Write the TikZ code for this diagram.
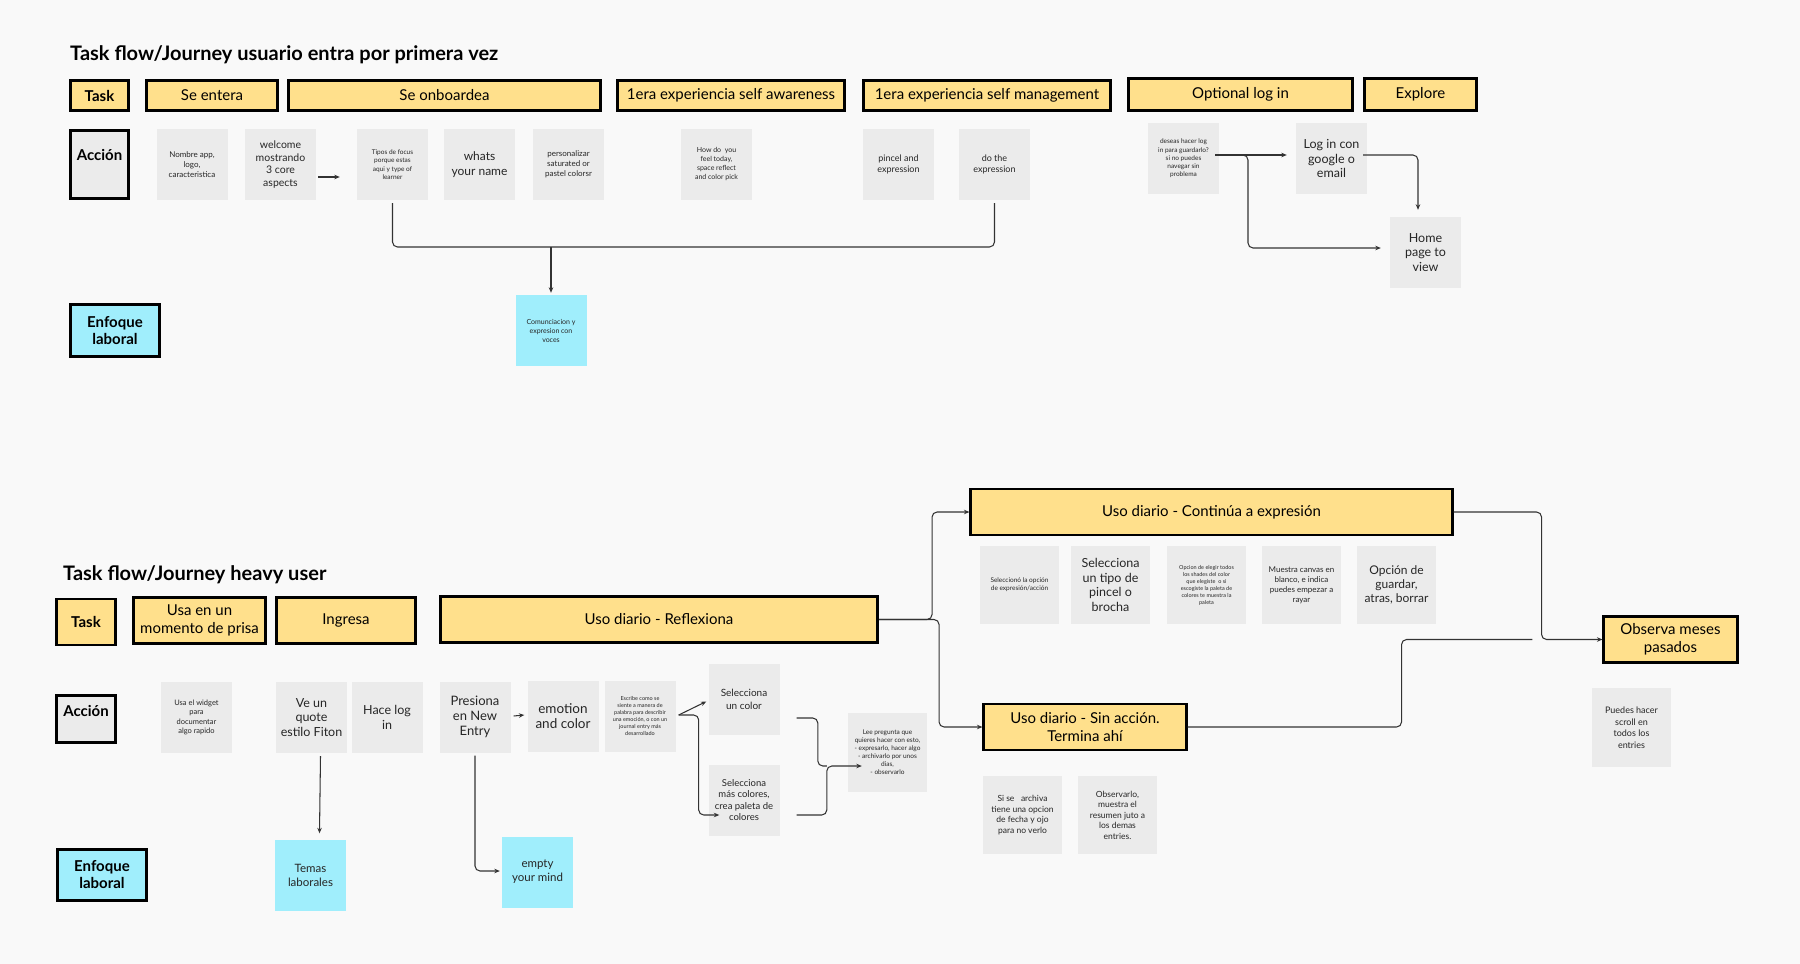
\documentclass[tikz,border=0pt]{standalone}
\usepackage{fontspec}
\setmainfont{Lato}
\usetikzlibrary{arrows.meta,calc}
\definecolor{bgc}{HTML}{F9F9F9}
\definecolor{hdrc}{HTML}{FFE08C}
\definecolor{cardg}{HTML}{EBEBEB}
\definecolor{cyanb}{HTML}{A0EEFC}
\definecolor{linec}{HTML}{333333}
\definecolor{txtc}{HTML}{262626}
\tikzset{
  hdrbox/.style={draw=black, line width=2.6pt, fill=hdrc, inner sep=1pt, align=center, text=black},
  lblbox/.style={draw=black, line width=2.6pt, inner sep=1pt, align=center, text=black, font=\bfseries\fontsize{15}{17}\selectfont},
  lbltext/.style={label={[font=\bfseries\fontsize{15}{17}\selectfont, text=black, inner sep=0pt, yshift=#1]center:Acción}},
  card/.style={fill=cardg, minimum width=71pt, minimum height=71pt, inner sep=1pt, align=center, text=txtc},
  cyanc/.style={card, fill=cyanb},
  bigcard/.style={card, minimum width=79pt, minimum height=78pt},
  conn/.style={draw=linec, line width=1.05pt, rounded corners=5pt},
  arr/.style={conn, -{Stealth[length=5.5pt,width=4.5pt]}},
  ttl/.style={anchor=base west, inner sep=0pt, font=\bfseries\fontsize{20}{22}\selectfont},
  h1/.style={hdrbox, minimum height=30.5pt, font=\fontsize{15}{18}\selectfont},
  h2/.style={hdrbox, minimum height=46pt, font=\fontsize{15}{18}\selectfont}
}
\begin{document}
\begin{tikzpicture}[x=1pt,y=-1pt]
\useasboundingbox (0,0) rectangle (1800,964);
\fill[bgc] (0,0) rectangle (1800,964);

% ---------------- Journey 1 ----------------
\node[ttl] (title1) at (70,60) {Task flow/Journey usuario entra por primera vez};

\node[h1, minimum width=58.5pt, font=\bfseries\fontsize{15}{18}\selectfont] (t1task) at (99.5,95.5) {Task};
\node[h1, minimum width=131.5pt] (t1ent) at (212,95.5) {Se entera};
\node[h1, minimum width=312.5pt] (t1onb) at (444.5,95.5) {Se onboardea};
\node[h1, minimum width=227.5pt] (t1aw) at (731,95.5) {1era experiencia self awareness};
\node[h1, minimum width=247.5pt] (t1mg) at (987,95.5) {1era experiencia self management};
\node[h1, minimum width=224.5pt, minimum height=32.5pt] (t1log) at (1240.5,94.5) {Optional log in};
\node[h1, minimum width=112.5pt, minimum height=32.5pt] (t1exp) at (1420.5,94.5) {Explore};

\node[lblbox, fill=cardg, minimum width=58.5pt, minimum height=68.5pt, lbltext=10pt] (acc1) at (99.5,164.5) {};
\node[lblbox, fill=cyanb, minimum width=89.5pt, minimum height=52.5pt] (enf1) at (115,330.5) {Enfoque\\laboral};

\node[card, font=\fontsize{8}{10}\selectfont] (c1) at (192,164.5) {Nombre app,\\logo,\\caracteristica};
\node[card, font=\fontsize{10.5}{12.6}\selectfont] (c2) at (280.5,164.5) {welcome\\mostrando\\3 core\\aspects};
\node[card, font=\fontsize{6.5}{8.4}\selectfont] (c3) at (392.5,164.5) {Tipos de focus\\porque estas\\aqui y type of\\learner};
\node[card, font=\fontsize{12}{14.5}\selectfont] (c4) at (479.5,164.5) {whats\\your name};
\node[card, font=\fontsize{8}{10.2}\selectfont] (c5) at (568.5,164.5) {personalizar\\saturated or\\pastel colorsr};
\node[card, font=\fontsize{7}{9}\selectfont] (c6) at (716.5,164.5) {How do\ \ you\\feel today,\\space reflect\\and color pick};
\node[card, font=\fontsize{9}{11.5}\selectfont] (c7) at (898.5,164.5) {pincel and\\expression};
\node[card, font=\fontsize{9}{11.5}\selectfont] (c8) at (994.5,164.5) {do the\\expression};
\node[card, font=\fontsize{6.5}{8.2}\selectfont] (c9) at (1183.5,158.5) {deseas hacer log\\in para guardarlo?\\si no puedes\\navegar sin\\problema};
\node[card, font=\fontsize{12.5}{14.5}\selectfont] (c10) at (1331.5,158.5) {Log in con\\google o\\email};
\node[card, font=\fontsize{12.5}{14.5}\selectfont] (c11) at (1425.5,252.5) {Home\\page to\\view};
\node[cyanc, font=\fontsize{7}{9}\selectfont] (com1) at (551,330.5) {Comunciacion y\\expresion con\\voces};

\coordinate (m1) at (551,247);
\draw[arr] ($(c2.east)+(2,12.5)$) -- ($(c3.west)+(-17,12.5)$);
\draw[conn] ($(c3.south)+(0,3)$) -- (c3.south |- m1) -- (c8.south |- m1) -- ($(c8.south)+(0,3)$);
\draw[arr] (m1) -- ($(com1.north)+(0,-2)$);

\coordinate (lgA) at ($(c9.east)+(-4,-3.5)$);
\coordinate (lgB) at (1248,155);
\draw[arr] (lgA) -- ($(c10.west)+(-9,-3.5)$);
\draw[arr] (lgA) -- (lgB) |- ($(c11.west)+(-9,-4.5)$);
\draw[arr] ($(c10.east)+(-4,-3.5)$) -| ($(c11.north)+(-7.5,-7)$);

% ---------------- Journey 2 ----------------
\node[ttl] (title2) at (63,580) {Task flow/Journey heavy user};

\node[h2, minimum width=58.5pt, font=\bfseries\fontsize{15}{18}\selectfont] (t2task) at (86,622) {Task};
\node[h2, minimum width=131.5pt] (t2usa) at (199.5,620.5) {Usa en un\\momento de prisa};
\node[h2, minimum width=138.5pt] (t2ing) at (346,620.5) {Ingresa};
\node[h2, minimum width=437.5pt] (t2ref) at (659,619.5) {Uso diario - Reflexiona};
\node[h2, minimum width=481.5pt] (t2cont) at (1211.5,512) {Uso diario - Continúa a expresión};
\node[h2, minimum width=133.5pt] (t2obs) at (1670.5,639.5) {Observa meses\\pasados};
\node[h2, minimum width=202.5pt] (t2sin) at (1085,727) {Uso diario - Sin acción.\\Termina ahí};

\node[lblbox, fill=cardg, minimum width=58.5pt, minimum height=47.5pt, lbltext=8pt] (acc2) at (86,719) {};
\node[lblbox, fill=cyanb, minimum width=89.5pt, minimum height=51.5pt] (enf2) at (102,875) {Enfoque\\laboral};

\node[card, font=\fontsize{7.5}{9.6}\selectfont] (d1) at (196.5,717.5) {Usa el widget\\para\\documentar\\algo rapido};
\node[card, font=\fontsize{12.5}{14.5}\selectfont] (d2) at (311.5,717.5) {Ve un\\quote\\estilo Fiton};
\node[card, font=\fontsize{12.5}{14.5}\selectfont] (d3) at (387,717.5) {Hace log\\in};
\node[card, font=\fontsize{13}{15}\selectfont] (d4) at (475,717) {Presiona\\en New\\Entry};
\node[card, font=\fontsize{13.5}{15.5}\selectfont] (d5) at (563,716) {emotion\\and color};
\node[card, font=\fontsize{5.5}{7}\selectfont] (d6) at (640,716) {Escribe como se\\siente a manera de\\palabra para describir\\una emoción, o con un\\journal entry más\\desarrollado};
\node[card, font=\fontsize{10}{12.5}\selectfont] (d7) at (744,699.5) {Selecciona\\un color};
\node[card, font=\fontsize{9.5}{11.5}\selectfont] (d8) at (744,800) {Selecciona\\más colores,\\crea paleta de\\colores};
\node[bigcard, minimum height=79pt, font=\fontsize{6.5}{8}\selectfont] (d9) at (887.5,752) {Lee pregunta que\\quieres hacer con esto,\\- expresarlo, hacer algo\\- archivarlo por unos\\dias,\\- observarlo};
\node[cyanc, font=\fontsize{11.5}{14}\selectfont] (temas) at (310.5,875) {Temas\\laborales};
\node[cyanc, font=\fontsize{11.5}{14}\selectfont] (empty) at (537.5,872) {empty\\your mind};

\node[bigcard, font=\fontsize{6.5}{8}\selectfont] (e1) at (1019.5,585) {Seleccionó la opción\\de expresión/acción};
\node[bigcard, font=\fontsize{12.5}{14.5}\selectfont] (e2) at (1110.5,585) {Selecciona\\un tipo de\\pincel o\\brocha};
\node[bigcard, font=\fontsize{5.5}{7}\selectfont] (e3) at (1206.5,585) {Opcion de elegir todos\\los shades del color\\que elegiste\ \ o si\\escogiste la paleta de\\colores te muestra la\\paleta};
\node[bigcard, font=\fontsize{8}{10}\selectfont] (e4) at (1301.5,585) {Muestra canvas en\\blanco, e indica\\puedes empezar a\\rayar};
\node[bigcard, font=\fontsize{12}{14}\selectfont] (e5) at (1396.5,585) {Opción de\\guardar,\\atras, borrar};

\node[bigcard, font=\fontsize{8.5}{10.5}\selectfont] (f1) at (1022.5,815) {Si se\ \ \ archiva\\tiene una opcion\\de fecha y ojo\\para no verlo};
\node[bigcard, font=\fontsize{8.5}{10.5}\selectfont] (f2) at (1117.5,815) {Observarlo,\\muestra el\\resumen juto a\\los demas\\entries.};
\node[bigcard, minimum height=79pt, font=\fontsize{9}{11.5}\selectfont] (puedes) at (1631.5,727.5) {Puedes hacer\\scroll en\\todos los\\entries};

% connectors journey 2
\draw[arr] ($(d2.south)+(9,3)$) -- ($(temas.north)+(9,-6)$);
\draw[arr] ($(d4.south)+(0,3)$) |- ($(empty.west)+(-2,-1)$);
\draw[arr] ($(d4.east)+(3,-1)$) -- ($(d5.west)+(-3,-1)$);

\coordinate (esA) at ($(d6.east)+(3,-1)$);
\draw[arr] (esA) -- ($(d7.west)+(-2,2)$);
\draw[arr] (esA) -- ($(esA)+(20,0)$) |- ($(d8.west)+(11,15)$);

\coordinate (lm) at ($(d9.west)+(-21,14)$);
\draw[conn] ($(d7.east)+(17,18.5)$) -| ($(lm)+(-9,0)$) -- (lm);
\draw[arr] ($(d8.east)+(17,15)$) -| (lm) -- ($(d9.west)+(14,14)$);

\draw[arr] (t2ref.east) -- ($(t2ref.east)+(53,0)$) |- (t2cont.west);
\draw[arr] (t2ref.east) -- ($(t2ref.east)+(60,0)$) |- (t2sin.west);
\draw[arr] (t2cont.east) -- ($(t2cont.east)+(88,0)$) |- (t2obs.west);
\draw[conn] (t2sin.east) -- ($(t2sin.east)+(214,0)$) |- ($(t2obs.west)+(-70,0)$);
\end{tikzpicture}
\end{document}
